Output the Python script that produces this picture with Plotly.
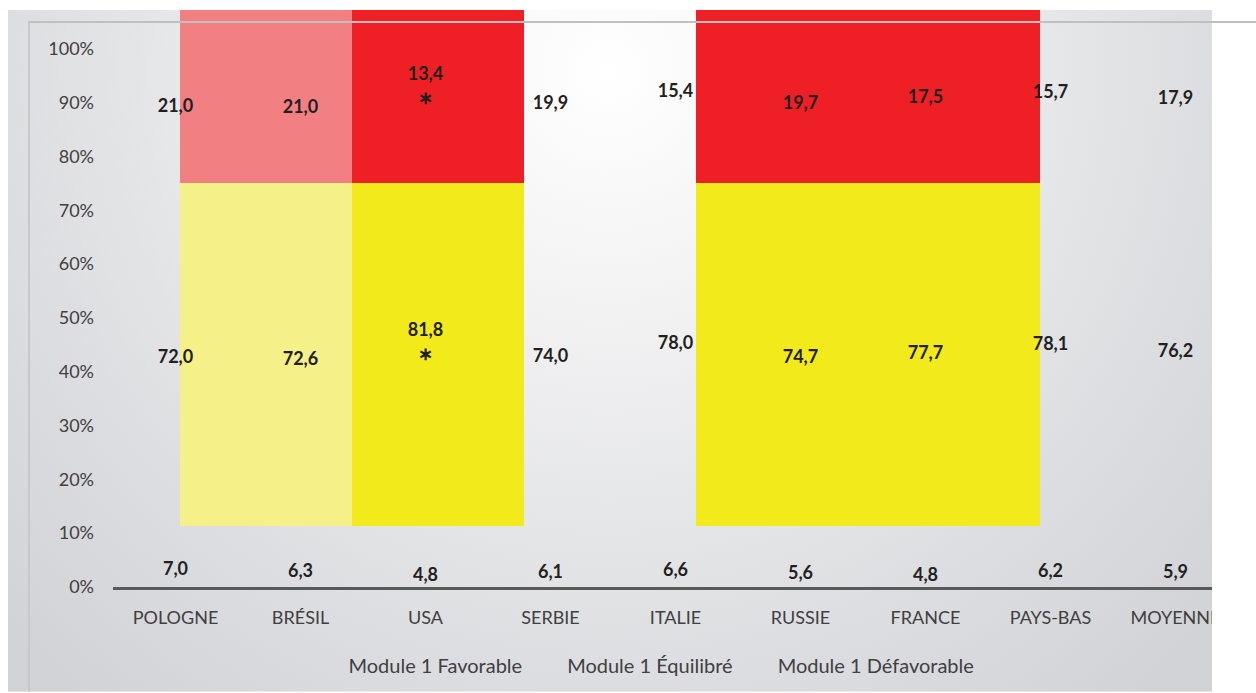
import base64
import plotly.graph_objects as go

# ---------------- data ----------------
categories = ["POLOGNE", "BRÉSIL", "USA", "SERBIE", "ITALIE", "RUSSIE", "FRANCE", "PAYS-BAS", "MOYENNE"]
favorable = [7.0, 6.3, 4.8, 6.1, 6.6, 5.6, 4.8, 6.2, 5.9]
equilibre = [72.0, 72.6, 81.8, 74.0, 78.0, 74.7, 77.7, 78.1, 76.2]
defavorable = [21.0, 21.0, 13.4, 19.9, 15.4, 19.7, 17.5, 15.7, 17.9]
significant = [False, False, True, False, False, False, False, False, False]
series_names = ["Module 1 Favorable", "Module 1 Équilibré", "Module 1 Défavorable"]
y_tick_values = [0, 10, 20, 30, 40, 50, 60, 70, 80, 90, 100]
y_tick_labels = [f"{v}%" for v in y_tick_values]

# coloured panels visible behind the (transparent) bars in the source picture
panel_slots = [0, 1, 3, 4]
panel_faded = [True, False, False, False]
panel_floor = 11.4
panel_split = 75.0
panel_ceiling = 107.2

# ---------------- styling ----------------
W, H = 1256, 693
ML, MR, MT, MB = 113, 18, 10, 105
PW, PH = W - ML - MR, H - MT - MB
FONT = "Lato"
low_colors = ["#f5f088" if f else "#f2ea1a" for f in panel_faded]
high_colors = ["#f27f81" if f else "#ee1f25" for f in panel_faded]


def fmt(v, star):
    s = f"{v:.1f}".replace(".", ",")
    return s + ("<br>\u2217" if star else "")


fig = go.Figure()

# background panels (on the hidden linear axis x)
fig.add_trace(go.Bar(
    x=panel_slots, y=[panel_split - panel_floor] * len(panel_slots), base=panel_floor,
    width=1, marker=dict(color=low_colors, line=dict(width=0)),
    xaxis="x", yaxis="y", showlegend=False, hoverinfo="skip"))
fig.add_trace(go.Bar(
    x=panel_slots, y=[panel_ceiling - panel_split] * len(panel_slots), base=panel_split,
    width=1, marker=dict(color=high_colors, line=dict(width=0)),
    xaxis="x", yaxis="y", showlegend=False, hoverinfo="skip"))

# the actual stacked series (transparent bars, labels only)
for name, vals, stars in [
    (series_names[0], favorable, [False] * len(favorable)),
    (series_names[1], equilibre, significant),
    (series_names[2], defavorable, significant),
]:
    fig.add_trace(go.Bar(
        x=categories, y=vals, name=name, xaxis="x2", yaxis="y",
        marker=dict(color="rgba(0,0,0,0)", line=dict(width=0)),
        text=[fmt(v, s) for v, s in zip(vals, stars)],
        textposition="inside", insidetextanchor="middle", constraintext="none",
        textangle=0,
        textfont=dict(family=FONT, size=18, color="#231f20", weight="bold"),
        hoverinfo="skip"))

# gradient backdrop
px0, py0, px1, py1 = 8, 10, 1212, 693
gw, gh = px1 - px0, py1 - py0
svg = f'''<svg xmlns="http://www.w3.org/2000/svg" width="{gw}" height="{gh}" viewBox="0 0 {gw} {gh}" preserveAspectRatio="none">
<defs><radialGradient id="g" gradientUnits="userSpaceOnUse" cx="600" cy="60" r="820">
<stop offset="0" stop-color="#ffffff"/><stop offset="0.3" stop-color="#f2f2f3"/>
<stop offset="0.75" stop-color="#dcdde0"/><stop offset="1" stop-color="#d2d3d6"/></radialGradient></defs>
<rect x="0" y="0" width="{gw}" height="{gh}" fill="url(#g)"/></svg>'''
uri = "data:image/svg+xml;base64," + base64.b64encode(svg.encode()).decode()


def pxx(p):
    return (p - ML) / PW


def pxy(p):
    return (H - MB - p) / PH


fig.add_layout_image(dict(
    source=uri, xref="paper", yref="paper", x=pxx(px0), y=pxy(py0),
    sizex=gw / PW, sizey=gh / PH, xanchor="left", yanchor="top",
    sizing="stretch", layer="below"))

# crop on the right, and thin frame lines
fig.add_shape(type="rect", xref="paper", yref="paper", x0=pxx(1212), x1=pxx(W + 5),
              y0=pxy(H + 5), y1=pxy(-5), fillcolor="white", line=dict(width=0), layer="above")
fig.add_shape(type="line", xref="paper", yref="paper", x0=pxx(28), x1=pxx(W),
              y0=pxy(22), y1=pxy(22), line=dict(color="#c0c0c0", width=2), layer="above")
fig.add_shape(type="line", xref="paper", yref="paper", x0=pxx(29), x1=pxx(29),
              y0=pxy(22), y1=pxy(H), line=dict(color="#c8c8c8", width=2), layer="above")

blk_c0 = 266
blk_w = 172
fig.update_layout(
    width=W, height=H,
    margin=dict(l=ML, r=MR, t=MT, b=MB),
    paper_bgcolor="white", plot_bgcolor="rgba(0,0,0,0)",
    barmode="stack", bargap=0.2,
    separators=", ",
    font=dict(family=FONT, size=18, color="#404040"),
    xaxis=dict(type="linear", range=[(ML - blk_c0) / blk_w, (W - MR - blk_c0) / blk_w],
               visible=False, fixedrange=True),
    xaxis2=dict(type="category", overlaying="x", anchor="y", side="bottom",
                range=[-0.5, len(categories) - 0.5],
                showline=True, linecolor="#595959", linewidth=3,
                showgrid=False, zeroline=False, ticks="",
                ticklabelstandoff=12,
                tickfont=dict(family=FONT, size=18, color="#404040")),
    yaxis=dict(range=[0, panel_ceiling], tickmode="array", tickvals=y_tick_values,
               ticktext=y_tick_labels,
               showgrid=False, zeroline=False, showline=False, ticks="",
               ticklabelstandoff=18,
               tickfont=dict(family=FONT, size=18, color="#404040")),
    legend=dict(orientation="h", traceorder="normal", x=pxx(644), xanchor="center",
                y=pxy(665), yanchor="middle",
                bgcolor="rgba(0,0,0,0)", font=dict(family=FONT, size=20, color="#404040")),
)

fig.write_html("out.html", config={"displayModeBar": False},
               post_script="document.body.style.margin='0';")
